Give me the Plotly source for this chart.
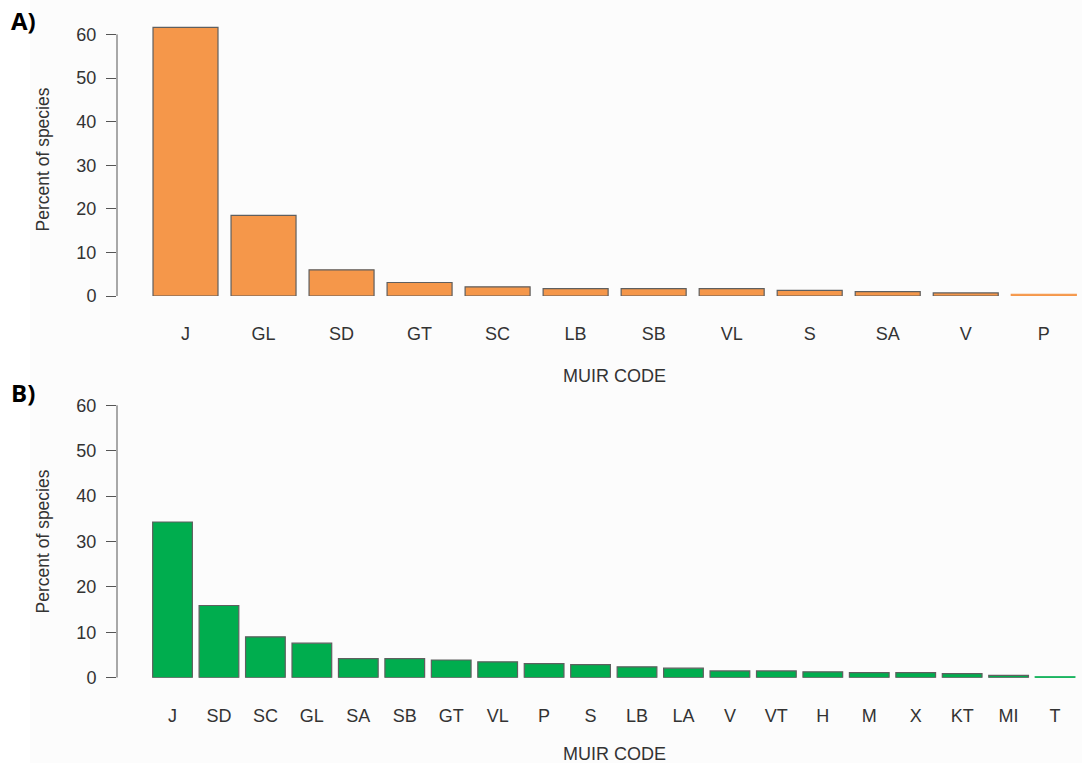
import plotly.graph_objects as go

# Panel A: percent of species per MUIR code
codes_a = ["J", "GL", "SD", "GT", "SC", "LB", "SB", "VL", "S", "SA", "V", "P"]
pct_a = [61.6, 18.5, 6.0, 3.1, 2.1, 1.7, 1.7, 1.7, 1.3, 1.0, 0.7, 0.4]

# Panel B: percent of species per MUIR code
codes_b = ["J", "SD", "SC", "GL", "SA", "SB", "GT", "VL", "P", "S",
           "LB", "LA", "V", "VT", "H", "M", "X", "KT", "MI", "T"]
pct_b = [34.3, 15.9, 9.0, 7.6, 4.2, 4.2, 3.9, 3.5, 3.1, 2.9,
         2.4, 2.1, 1.5, 1.5, 1.3, 1.1, 1.1, 0.9, 0.5, 0.2]

y_ticks = [0, 10, 20, 30, 40, 50, 60]

W, H = 1082, 763
ORANGE = "#F5974A"
GREEN = "#00AD4E"
EDGE = "#5f5f5f"
AXIS = "#555555"
TXT = "#333333"
FONT = "Liberation Sans, Arial, sans-serif"


def py(pix):
    """Pixel row -> paper y."""
    return 1 - pix / H


def px(pix):
    """Pixel column -> paper x."""
    return pix / W


def edges(vals, fill):
    # very short bars are drawn without a dark outline
    return [fill if v < 0.5 else EDGE for v in vals]


fig = go.Figure()
fig.add_trace(go.Bar(
    x=codes_a, y=pct_a, xaxis="x", yaxis="y",
    marker=dict(color=ORANGE, line=dict(color=edges(pct_a, ORANGE), width=1.2)),
    hoverinfo="x+y", showlegend=False))
fig.add_trace(go.Bar(
    x=codes_b, y=pct_b, xaxis="x2", yaxis="y2", width=0.855,
    marker=dict(color=GREEN, line=dict(color=edges(pct_b, GREEN), width=1.2)),
    hoverinfo="x+y", showlegend=False))

x_left = px(117)

xcommon = dict(type="category", showline=False, showgrid=False, zeroline=False,
               automargin=False,
               ticks="", tickfont=dict(family=FONT, size=18, color=TXT),
               ticklabelstandoff=25)
ycommon = dict(showline=False, showgrid=False, zeroline=False, automargin=False,
               tickvals=y_ticks, ticks="outside", ticklen=10, tickwidth=1,
               tickcolor=AXIS, tickfont=dict(family=FONT, size=18, color=TXT),
               ticklabelstandoff=6)

fig.update_layout(
    width=W, height=H,
    margin=dict(l=0, r=0, t=0, b=0, autoexpand=False),
    paper_bgcolor="#fcfcfc", plot_bgcolor="rgba(0,0,0,0)",
    bargap=0.167,
    xaxis=dict(domain=[x_left, 1.0], range=[-0.878, 11.49], anchor="y", **xcommon),
    yaxis=dict(domain=[py(296), py(23.5)], range=[0, 62.5], anchor="x", **ycommon),
    xaxis2=dict(domain=[x_left, 1.0], range=[-1.195, 19.58], anchor="y2", **xcommon),
    yaxis2=dict(domain=[py(677.7), py(400.8)], range=[0, 61], anchor="x2", **ycommon),
)

shapes = [
    dict(type="rect", xref="paper", yref="paper", x0=0, x1=px(30), y0=0, y1=1,
         fillcolor="white", line=dict(width=0), layer="below"),
    dict(type="line", xref="paper", yref="y", x0=x_left, x1=x_left, y0=0, y1=60,
         line=dict(color=AXIS, width=1)),
    dict(type="line", xref="paper", yref="y2", x0=x_left, x1=x_left, y0=0, y1=60,
         line=dict(color=AXIS, width=1)),
]
fig.update_layout(shapes=shapes)

ann = []
for lab, yc in (("A)", 20), ("B)", 392)):
    ann.append(dict(text="<b>%s</b>" % lab, xref="paper", yref="paper",
                    x=px(23), y=py(yc), xanchor="center", yanchor="middle",
                    showarrow=False, font=dict(family="Open Sans, sans-serif",
                                               size=24, color="black")))
for yc in (160, 542):
    ann.append(dict(text="Percent of species", xref="paper", yref="paper",
                    x=px(42.5), y=py(yc), xanchor="center", yanchor="middle",
                    textangle=-90, showarrow=False,
                    font=dict(family=FONT, size=17.5, color=TXT)))
for yc in (376, 754):
    ann.append(dict(text="MUIR CODE", xref="paper", yref="paper",
                    x=px(614), y=py(yc), xanchor="center", yanchor="middle",
                    showarrow=False, font=dict(family=FONT, size=18, color=TXT)))
fig.update_layout(annotations=ann)

fig.write_html("out.html")
